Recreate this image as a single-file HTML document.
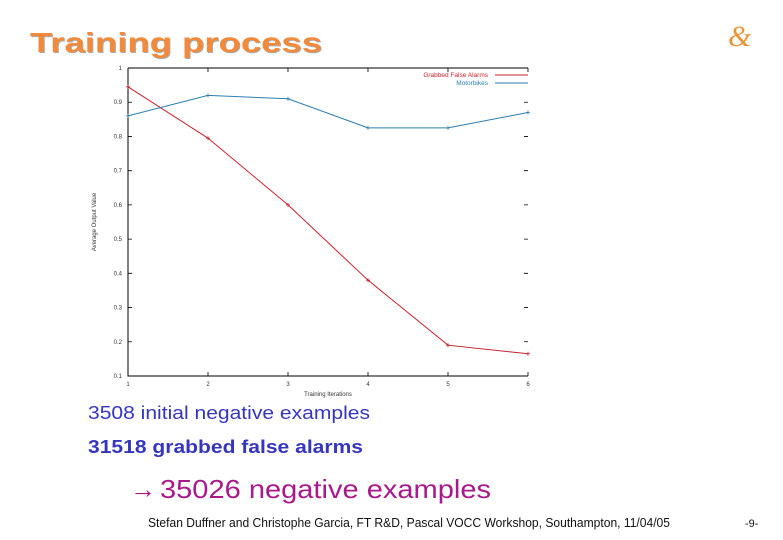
<!DOCTYPE html>
<html><head><meta charset="utf-8"><style>
html,body{margin:0;padding:0;background:#fff;}
svg{display:block;font-family:"Liberation Sans",sans-serif;}
</style></head><body>
<svg width="783" height="540" viewBox="0 0 783 540">
  <text x="31" y="53" font-size="28" font-weight="bold" fill="#aaa" textLength="292" lengthAdjust="spacingAndGlyphs">Training process</text>
  <text x="30" y="52" font-size="28" font-weight="bold" fill="#f28a3a" textLength="292" lengthAdjust="spacingAndGlyphs">Training process</text>
  <text x="728" y="46" font-size="30" font-family="Liberation Serif, serif" font-style="italic" fill="#e8953a">&amp;</text>
  <g id="chart"></g>
  <text x="88" y="419" font-size="18" fill="#3535c0" textLength="282" lengthAdjust="spacingAndGlyphs">3508 initial negative examples</text>
  <text x="88" y="453" font-size="18" font-weight="bold" fill="#3535c0" textLength="275" lengthAdjust="spacingAndGlyphs">31518 grabbed false alarms</text>
  <text x="130" y="498" font-size="26" fill="#a8198a">→</text>
  <text x="160" y="498" font-size="26" fill="#a8198a" textLength="331" lengthAdjust="spacingAndGlyphs">35026 negative examples</text>
  <text x="148" y="527" font-size="12.5" fill="#111" textLength="522" lengthAdjust="spacingAndGlyphs">Stefan Duffner and Christophe Garcia, FT R&amp;D, Pascal VOCC Workshop, Southampton, 11/04/05</text>
  <text x="745" y="527" font-size="11" fill="#111">-9-</text>
</svg>
<script>
const categories=[1,2,3,4,5,6];
const grabbedValues=[0.945,0.795,0.60,0.38,0.19,0.165];
const motorbikeValues=[0.86,0.92,0.91,0.825,0.825,0.87];
const yTicks=[0.1,0.2,0.3,0.4,0.5,0.6,0.7,0.8,0.9,1];
const yTickLabels=["0.1","0.2","0.3","0.4","0.5","0.6","0.7","0.8","0.9","1"];
const seriesNames=["Grabbed False Alarms","Motorbikes"];
const NS="http://www.w3.org/2000/svg";
const g=document.getElementById('chart');
const L=128,R=528,T=68,B=376;
const xs=v=>L+(v-1)/(5)*(R-L);
const ys=v=>B-(v-0.1)/0.9*(B-T);
function mk(t,a){const e=document.createElementNS(NS,t);for(const k in a)e.setAttribute(k,a[k]);g.appendChild(e);return e;}
let e=mk('path',{d:`M${L},${T}H${R}M${L},${T}V${B}H${R}`,stroke:'#000','stroke-width':1,fill:'none'});


yTicks.forEach((v,i)=>{
  const t=mk('text',{x:L-6,y:ys(v)+2,'font-size':6,'text-anchor':'end',fill:'#333'});
  t.textContent=yTickLabels[i];
  
  
  const k=mk('path',{d:`M${L},${ys(v)}h4M${R},${ys(v)}h-4`,stroke:'#000','stroke-width':0.8});
  
  
});
categories.forEach(c=>{
  const t=mk('text',{x:xs(c),y:B+10,'font-size':6,'text-anchor':'middle',fill:'#333'});
  t.textContent=c;
  
  
  const k=mk('path',{d:`M${xs(c)},${B}v-4M${xs(c)},${T}v4`,stroke:'#000','stroke-width':0.8});
  
  
});
e=mk('text',{x:(L+R)/2,y:B+20,'font-size':6,'text-anchor':'middle',fill:'#333'});
e.textContent='Training Iterations';


e=mk('text',{x:0,y:0,'font-size':6,'text-anchor':'middle',fill:'#333',transform:`translate(96,${(T+B)/2}) rotate(-90)`});
e.textContent='Average Output Value';


function series(vals,color,name,ly,label){
  const p=mk('polyline',{points:vals.map((v,i)=>xs(categories[i])+','+ys(v)).join(' '),fill:'none',stroke:color,'stroke-width':1});
  
  
  vals.forEach((v,i)=>{
    const m=mk('path',{d:`M${xs(categories[i])-2},${ys(v)}h4M${xs(categories[i])},${ys(v)-2}v4`,stroke:color,'stroke-width':0.8});
    
    
  });
  const lt=mk('text',{x:488,y:ly+2,'font-size':6.5,'text-anchor':'end',fill:color});
  lt.textContent=label;
  
  
  const ll=mk('path',{d:`M495,${ly}h33`,stroke:color,'stroke-width':1});
  
  
}
series(grabbedValues,'#c8202a','grabbed-false-alarms-line',75,seriesNames[0]);
series(motorbikeValues,'#2a7fb0','motorbikes-line',83,seriesNames[1]);
</script>
</body></html>
